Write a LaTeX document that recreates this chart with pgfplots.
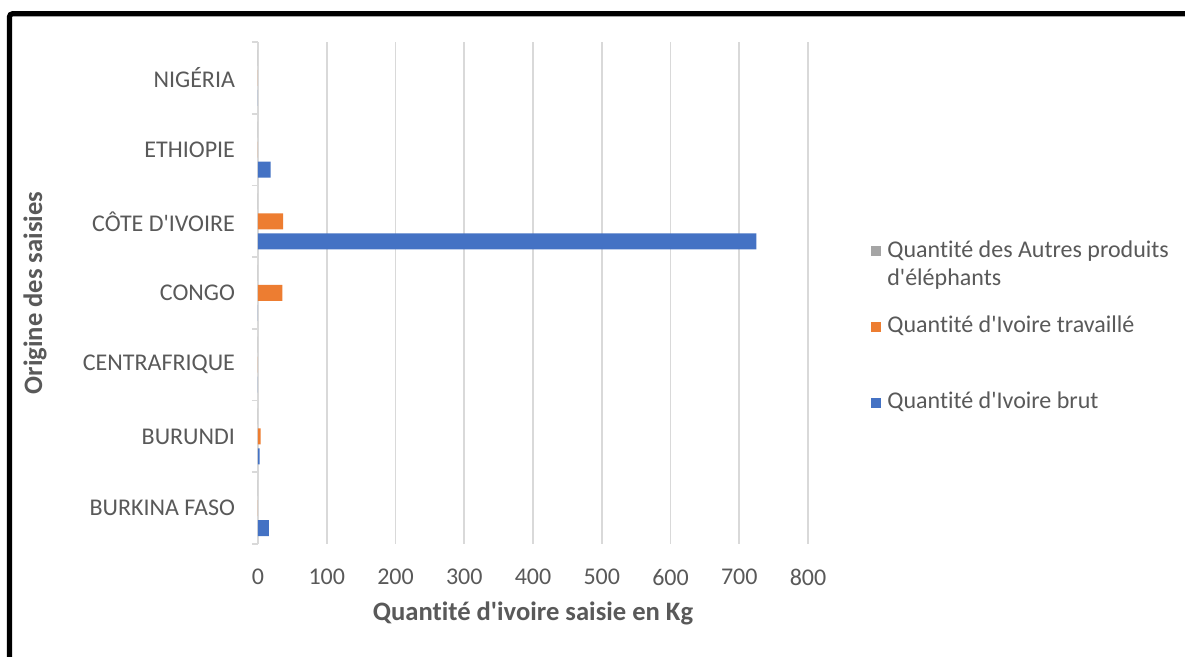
\documentclass[border=0pt]{standalone}
\usepackage{pgfplots}
\pgfplotsset{compat=1.18}
\usepackage{fontspec}
\setmainfont{Carlito}[Ligatures={NoCommon,TeXOff}]
\definecolor{cblue}{HTML}{4472C4}
\definecolor{corange}{HTML}{ED7D31}
\definecolor{cgrey}{HTML}{A5A5A5}
\definecolor{gridc}{HTML}{D9D9D9}
\definecolor{txt}{HTML}{595959}
\begin{document}
\begin{tikzpicture}[x=1pt,y=1pt]
\useasboundingbox (0,0) rectangle (592.5,328.5);
\fill[white] (0,0) rectangle (592.5,328.5);
\draw[line width=2.6pt, rounded corners=1.5pt] (4.75,-10) -- (4.75,321.6) -- (610,321.6);
\begin{axis}[
  at={(129pt,56.5pt)}, anchor=south west,
  width=275pt, height=251pt, scale only axis,
  xbar, bar width=8pt,
  xmin=0, xmax=800, ymin=-0.5, ymax=6.5,
  xtick={0,100,...,800},
  ytick={0,...,6},
  yticklabels={BURKINA FASO, BURUNDI, CENTRAFRIQUE, CONGO, CÔTE D'IVOIRE, ETHIOPIE, NIGÉRIA},
  major tick length=0pt,
  extra y ticks={-0.5,0.5,...,6.5}, extra y tick labels={},
  extra y tick style={major tick length=3pt, tick align=outside, tick style={draw=gridc, line width=0.9pt}, grid=none},
  axis lines=left,
  axis line style={-},
  x axis line style={draw=none},
  y axis line style={draw=gridc, line width=0.9pt},
  xmajorgrids, grid style={draw=gridc, line width=0.9pt},
  /pgf/number format/assume math mode=true,
  tick label style={font=\fontsize{12}{14}\selectfont, text=txt},
  xticklabel style={yshift=-9pt},
  yticklabel style={xshift=-8pt},
  xlabel={Quantité d'ivoire saisie en Kg},
  ylabel={Origine des saisies},
  label style={font=\fontsize{13.3}{15}\selectfont\bfseries, text=txt},
  xlabel style={at={(axis description cs:0.5,-0.139)}, anchor=center},
  ylabel style={at={(axis description cs:-0.4055,0.5)}, anchor=center, rotate=0},
  reverse legend,
  legend style={at={(axis description cs:1.1036,0.621)}, anchor=north west, draw=none, fill=none,
    font=\fontsize{12}{14}\selectfont, text=txt, row sep=24pt, column sep=1pt,
    cells={anchor=base west}},
  legend image code/.code={\fill[#1] (0pt,0.5pt) rectangle (5pt,5.5pt);},
]
\addplot[fill=cblue, draw=none] coordinates {(16,0) (2.5,1) (0,2) (0,3) (725,4) (18.5,5) (0,6)};
\addlegendentry{Quantité d'Ivoire brut}
\addplot[fill=corange, draw=none] coordinates {(0,0) (4,1) (0,2) (35.5,3) (36.5,4) (0,5) (0,6)};
\addlegendentry{Quantité d'Ivoire travaillé}
\addplot[fill=cgrey, draw=none] coordinates {(0,0) (0,1) (0,2) (0,3) (0,4) (0,5) (0,6)};
\addlegendentry{\parbox[t]{150pt}{Quantité des Autres produits\\d'éléphants}}
\end{axis}
\end{tikzpicture}
\end{document}
